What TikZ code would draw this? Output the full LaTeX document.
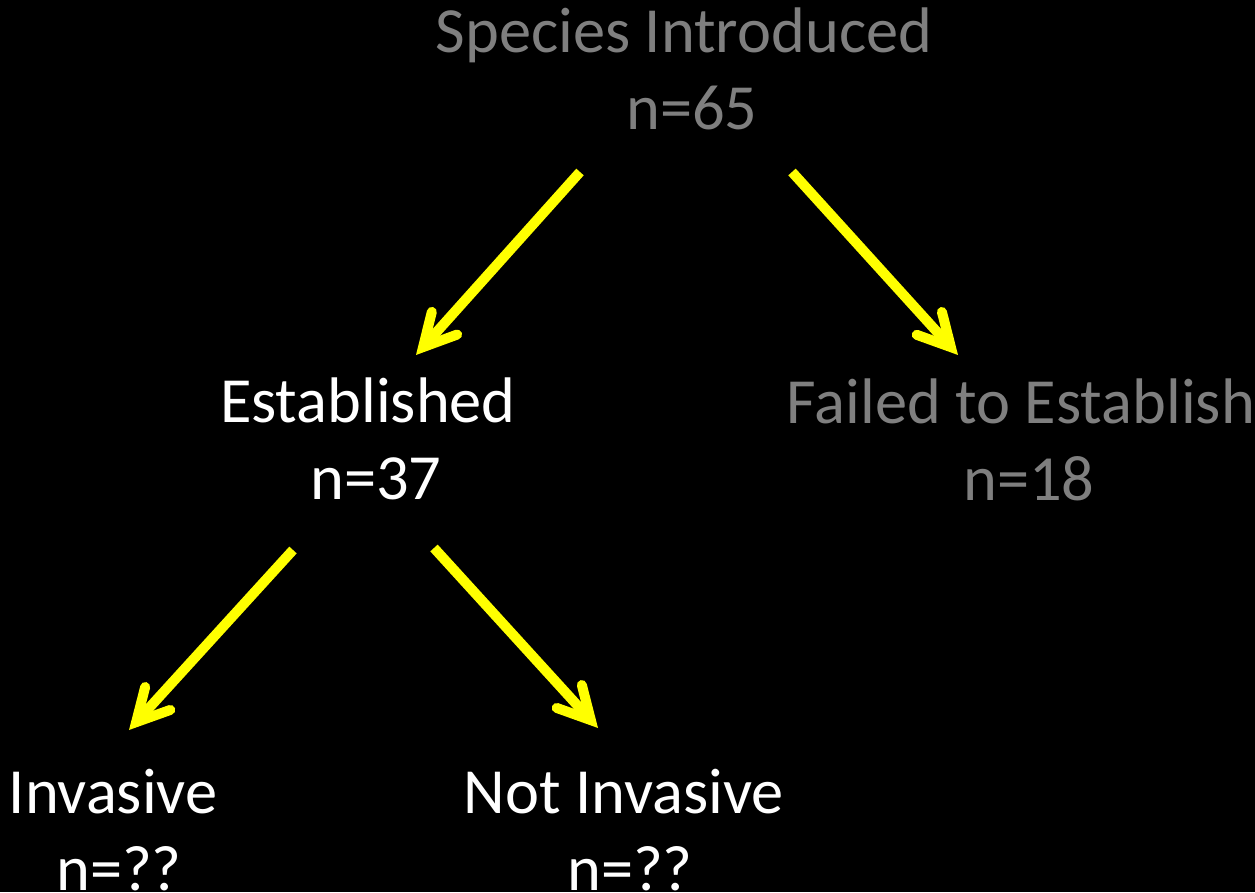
\documentclass[tikz,border=0pt]{standalone}
\usepackage{fontspec}
\setmainfont{Carlito}
\usetikzlibrary{arrows.meta}
\definecolor{dimtext}{RGB}{127,127,127}
\definecolor{arrowyellow}{RGB}{255,255,0}
\begin{document}
\begin{tikzpicture}[x=1pt,y=1pt,
  label/.style={inner sep=0pt,align=center,anchor=base,
    font=\fontsize{64.4}{77}\selectfont},
  brightlabel/.style={label,text=white},
  dimlabel/.style={label,text=dimtext},
  branch/.style={draw=arrowyellow,line width=10pt,line cap=butt,
    -{Straight Barb[length=32pt,width=34pt,line cap=round,line join=miter]}}]
% black slide background, fixing the page size
\fill[black] (0,0) rectangle (1255,892);
\useasboundingbox (0,0) rectangle (1255,892);

% outcome labels (anchor = baseline of the count line)
\node[dimlabel]    (intro)  at (692,762) {Species Introduced\kern0.25em\\n=65};
\node[brightlabel] (est)    at (376,392) {Established\kern0.25em\\n=37};
\node[dimlabel]    (fail)   at (1029,391) {Failed to Establish\kern0.25em\\n=18};
\node[brightlabel] (inv)    at (119,2)   {Invasive\kern0.18em\\n=??};
\node[brightlabel] (notinv) at (630,2)   {Not Invasive\kern0.2em\\n=??};

% branching arrows
\draw[branch] ([shift={(-112,-42)}]intro.base) -- ([shift={(40,145)}]est.base);
\draw[branch] ([shift={(100,-42)}]intro.base) -- ([shift={(-71,146)}]fail.base);
\draw[branch] ([shift={(-83,-50)}]est.base) -- ([shift={(10,160)}]inv.base);
\draw[branch] ([shift={(58,-48)}]est.base) -- ([shift={(-32,162)}]notinv.base);
\end{tikzpicture}
\end{document}
